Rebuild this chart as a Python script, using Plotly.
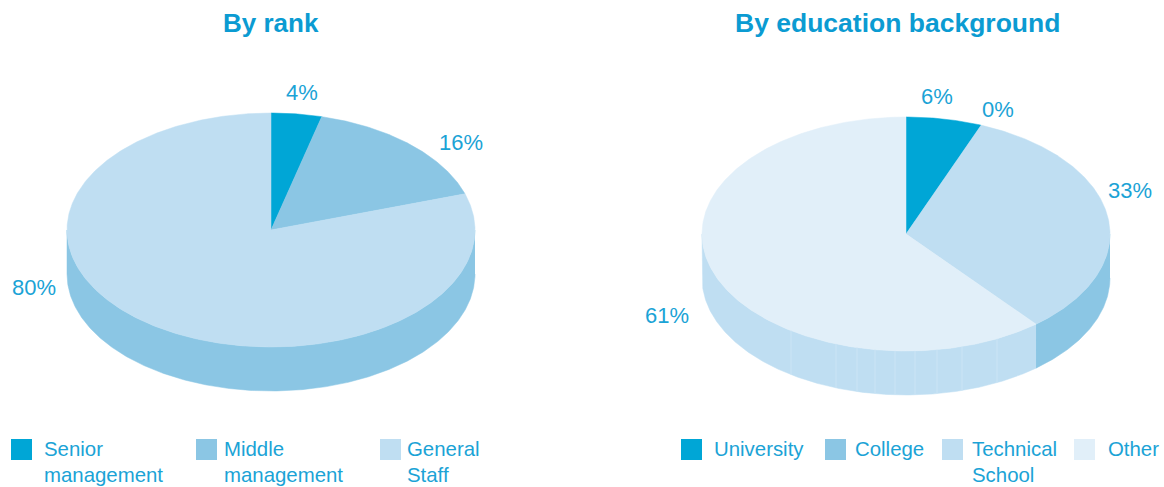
import numpy as np
import plotly.graph_objects as go

# ---- data ----
rank_titles = "By rank"
rank_categories = ["Senior<br>management", "Middle<br>management", "General<br>Staff"]
rank_values = [4, 16, 80]
edu_title = "By education background"
edu_categories = ["University", "College", "Technical<br>School", "Other"]
edu_values = [6, 0, 33, 61]

# ---- style and layout ----
C1, C2, C3, C4 = "#00a6d6", "#8bc6e4", "#bfdef2", "#e1eff9"
TEXT = "#1ba3d6"
TITLE = "#0b9bd2"
FONT = "Liberation Sans"
RX, RY, DEPTH = 204, 117, 44

rank_pie = dict(cx=271, cy=230, top=[C1, C2, C3], side=[C1, C2, C2],
                labels=[(302, 93), (461, 143), (34, 288)],
                legend_sq=[21.5, 206.5, 390.5], legend_tx=[44, 224, 407])
edu_pie = dict(cx=906, cy=234, top=[C1, C2, C3, C4], side=[C1, C2, C2, C3],
               labels=[(937, 97), (998, 110), (1130, 191), (667, 316)],
               legend_sq=[691.5, 835.5, 952.5, 1084.5], legend_tx=[714, 855, 972, 1108])
seam_offsets = [-115, -70, -49, -31, -11, 9, 31, 56, 91]

fig = go.Figure()


def arc(cx, cy, a0, a1, dy=0):
    t = np.radians(np.linspace(a0, a1, max(int(abs(a1 - a0) * 2), 2)))
    return cx + RX * np.sin(t), cy - RY * np.cos(t) + dy


def polygon(x, y, color):
    fig.add_trace(go.Scatter(x=list(x), y=list(y), mode="lines", fill="toself",
                             fillcolor=color, line=dict(color=color, width=0.5),
                             hoverinfo="skip", showlegend=False))


def draw_pie(values, cfg):
    cx, cy = cfg["cx"], cfg["cy"]
    edges = np.concatenate([[0], np.cumsum(values)]) * 360.0 / sum(values)
    # side wall: only the front half of the ellipse shows
    for a0, a1, col in zip(edges[:-1], edges[1:], cfg["side"]):
        lo, hi = max(a0, 90), min(a1, 270)
        if hi > lo:
            x1, y1 = arc(cx, cy, lo, hi)
            x2, y2 = arc(cx, cy, lo, hi, DEPTH)
            polygon(np.r_[x1, x2[::-1]], np.r_[y1, y2[::-1]], col)
    # top face
    for a0, a1, col in zip(edges[:-1], edges[1:], cfg["top"]):
        if a1 > a0:
            x, y = arc(cx, cy, a0, a1)
            polygon(np.r_[cx, x, cx], np.r_[cy, y, cy], col)
    # value labels
    fig.add_trace(go.Scatter(x=[p[0] for p in cfg["labels"]], y=[p[1] + 1.5 for p in cfg["labels"]],
                             mode="text", text=[f"{v}%" for v in values],
                             textposition="middle center",
                             textfont=dict(family=FONT, size=22, color=TEXT),
                             hoverinfo="skip", showlegend=False))


def draw_legend(cats, cfg, y_sq=449.5):
    fig.add_trace(go.Scatter(x=cfg["legend_sq"], y=[y_sq] * len(cats), mode="markers",
                             marker=dict(symbol="square", size=21, color=cfg["top"], line=dict(width=0)),
                             hoverinfo="skip", showlegend=False))
    for x, c in zip(cfg["legend_tx"], cats):
        for i, line in enumerate(c.split("<br>")):
            fig.add_trace(go.Scatter(x=[x], y=[y_sq + 1.5 + 26 * i], mode="text", text=[line],
                                     textposition="middle right",
                                     textfont=dict(family=FONT, size=20.4, color=TEXT),
                                     hoverinfo="skip", showlegend=False))


draw_pie(rank_values, rank_pie)
draw_pie(edu_values, edu_pie)

# faint seams on the "Other" wall
for off in seam_offsets:
    yy = edu_pie["cy"] + RY * np.sqrt(1 - (off / RX) ** 2)
    fig.add_trace(go.Scatter(x=[edu_pie["cx"] + off] * 2, y=[yy, yy + DEPTH], mode="lines",
                             line=dict(color="#cbe4f5", width=1), hoverinfo="skip", showlegend=False))

draw_legend(rank_categories, rank_pie)
draw_legend(edu_categories, edu_pie)

for x, t, s in [(271, rank_titles, 26), (897.5, edu_title, 26.5)]:
    fig.add_annotation(x=x, y=23, text=f"<b>{t}</b>", showarrow=False,
                       font=dict(family=FONT, size=s, color=TITLE))

fig.update_layout(width=1164, height=487, autosize=False, margin=dict(l=0, r=0, t=0, b=0),
                  paper_bgcolor="white", plot_bgcolor="white", showlegend=False,
                  xaxis=dict(range=[0, 1164], visible=False, fixedrange=True),
                  yaxis=dict(range=[487, 0], visible=False, fixedrange=True))

fig.write_html("out.html", post_script="document.body.style.margin='0';",
               config=dict(displayModeBar=False))
